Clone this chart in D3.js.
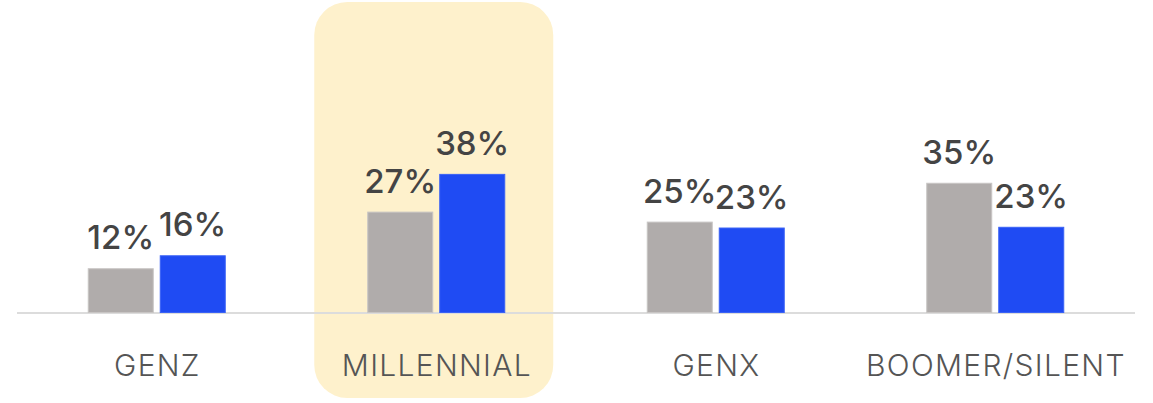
<!DOCTYPE html>
<html>
<head>
	<meta charset="utf-8">
	<script src="https://cdnjs.cloudflare.com/ajax/libs/d3/7.8.5/d3.min.js"></script>
	<style>
	body {
		margin: 0;
		background: #fff;
	}

	.value {
		font-family: Inter, "Noto Sans", sans-serif;
		font-size: 33px;
		font-weight: 500;
		fill: #444;
	}

	.category {
		font-family: Inter, "Noto Sans", sans-serif;
		font-size: 30px;
		font-weight: 300;
		letter-spacing: 1.3px;
		fill: #555;
	}
</style>
</head>
<body>
	<svg width="1153" height="403"></svg>
	<script>
	//data
	let categories = ["GENZ", "MILLENNIAL", "GENX", "BOOMER/SILENT"];
	let series = ["gray", "blue"];
	let grayValues = [12.1, 27.4, 24.7, 35.2];
	let blueValues = [15.6, 37.6, 23.1, 23.3];
	let highlighted = "MILLENNIAL";

	let colors = {gray: "#b0acab", blue: "#1f4bf3"};
	let strokes = {gray: "#c8c5c4", blue: "#3a62f5"};

	let svg = d3.select("svg"),
		baseline = 313,
		left = 17,
		right = 1135;

	//scales
	let x0 = d3.scaleBand()
		.domain(categories)
		.range([left, right]);

	let x1 = d3.scaleBand()
		.domain(series)
		.range([-69, 69])
		.paddingInner(6 / 72);

	let y = d3.scaleLinear()
		.domain([0, 40])
		.range([baseline, baseline - 148]);

	//highlight box behind millennial group
	svg.append("rect")
		.attr("x", x0(highlighted) + x0.bandwidth() / 2 - 122)
		.attr("y", 2)
		.attr("width", 239)
		.attr("height", 396)
		.attr("rx", 33)
		.attr("fill", "#fef1cc");

	//baseline
	svg.append("line")
		.attr("x1", left)
		.attr("x2", right)
		.attr("y1", baseline)
		.attr("y2", baseline)
		.attr("stroke", "#dcdcdc")
		.attr("stroke-width", 2);

	//build rows
	let rows = categories.map(function(c, i) {
		return {
			category: c,
			values: [
				{key: "gray", value: grayValues[i]},
				{key: "blue", value: blueValues[i]}
			]
		};
	});

	let group = svg.selectAll(".group")
		.data(rows)
		.enter()
		.append("g")
		.attr("class", "group")
		.attr("transform", function(d) { return "translate(" + (x0(d.category) + x0.bandwidth() / 2) + ",0)"; });

	group.selectAll("rect")
		.data(function(d) { return d.values; })
		.enter()
		.append("rect")
		.attr("x", function(d) { return x1(d.key) + 0.5; })
		.attr("y", function(d) { return y(d.value) + 0.5; })
		.attr("width", x1.bandwidth() - 1)
		.attr("height", function(d) { return baseline - 1 - y(d.value); })
		.attr("fill", function(d) { return colors[d.key]; })
		.attr("stroke", function(d) { return strokes[d.key]; })
		.attr("stroke-width", 1);

	//value labels
	group.selectAll(".value")
		.data(function(d) { return d.values; })
		.enter()
		.append("text")
		.attr("class", "value")
		.attr("x", function(d) { return x1(d.key) + x1.bandwidth() / 2; })
		.attr("y", function(d) { return y(d.value) - 19; })
		.attr("text-anchor", "middle")
		.text(function(d) { return Math.round(d.value) + "%"; });

	//category labels
	group.append("text")
		.attr("class", "category")
		.attr("x", 0.65)
		.attr("y", 376)
		.attr("text-anchor", "middle")
		.text(function(d) { return d.category; });

	</script>
</body>
</html>
